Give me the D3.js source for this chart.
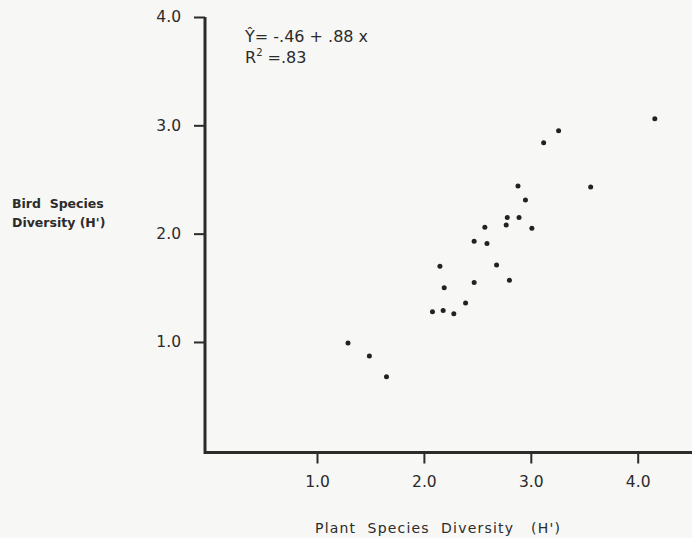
<!DOCTYPE html>
<html>
<head>
<meta charset="utf-8">
<script src="https://cdn.jsdelivr.net/npm/d3@7"></script>
<style>
  html, body { margin: 0; padding: 0; background: #f7f7f5; }
  svg { display: block; }
  text { font-family: "DejaVu Sans", sans-serif; fill: #2b2b2b; }
</style>
</head>
<body>
<div id="chart"></div>
<script>
// données
const plantH = [1.29, 1.49, 1.65, 2.08, 2.18, 2.28, 2.39, 2.19, 2.15, 2.47, 2.80, 2.68, 2.47,
                2.59, 2.57, 2.77, 2.78, 2.89, 3.01, 2.95, 2.88, 3.56, 3.12, 3.26, 4.16];
const birdH  = [0.99, 0.87, 0.68, 1.28, 1.29, 1.26, 1.36, 1.50, 1.70, 1.55, 1.57, 1.71, 1.93,
                1.91, 2.06, 2.08, 2.15, 2.15, 2.05, 2.31, 2.44, 2.43, 2.84, 2.95, 3.06];
const xTicks = [1, 2, 3, 4];
const yTicks = [1, 2, 3, 4];
const xTitre = "Plant  Species  Diversity   (H')";
const yTitre = ["Bird  Species", "Diversity (H')"];

const largeur = 692, hauteur = 538;
const axeX0 = 205, axeY0 = 452.5;

const svg = d3.select("#chart").append("svg")
    .attr("width", largeur).attr("height", hauteur);

const x = d3.scaleLinear().domain([0, 4]).range([210.1, 637.7]);
const y = d3.scaleLinear().domain([0, 4]).range([450.3, 17]);

const encre = "#2b2b2b";

// Axe Y
const gY = svg.append("g").attr("transform", `translate(${axeX0},0)`)
    .call(d3.axisLeft(y).tickValues(yTicks).tickSize(11).tickSizeOuter(0)
        .tickPadding(13).tickFormat(d3.format(".1f")));
gY.select(".domain").remove();
gY.selectAll(".tick line").attr("stroke", encre).attr("stroke-width", 2);
gY.selectAll(".tick text").attr("font-size", 15.5).attr("fill", encre).attr("font-family", "DejaVu Sans");

// Axe X
const gX = svg.append("g").attr("transform", `translate(0,${axeY0})`)
    .call(d3.axisBottom(x).tickValues(xTicks).tickSize(11).tickSizeOuter(0)
        .tickPadding(12).tickFormat(d3.format(".1f")));
gX.select(".domain").remove();
gX.selectAll(".tick line").attr("stroke", encre).attr("stroke-width", 2);
gX.selectAll(".tick text").attr("font-size", 15.5).attr("fill", encre).attr("font-family", "DejaVu Sans");

// Lignes des axes (cadre en L)
svg.append("path")
    .attr("d", `M${axeX0},${y(4)}V${axeY0}H${largeur}`)
    .attr("fill", "none").attr("stroke", encre).attr("stroke-width", 3);

// Points
svg.append("g").selectAll("circle")
    .data(plantH.map((v, i) => [v, birdH[i]]))
    .join("circle")
    .attr("cx", d => x(d[0]))
    .attr("cy", d => y(d[1]))
    .attr("r", 2.5)
    .attr("fill", "#222");

// Équation
const eq = svg.append("g").attr("font-size", 16);
eq.append("text").attr("x", 245).attr("y", 42).text("Ŷ= -.46 + .88 x");
const r2 = eq.append("text").attr("x", 245).attr("y", 63);
r2.append("tspan").text("R");
r2.append("tspan").attr("font-size", 10).attr("dy", -7).text("2");
r2.append("tspan").attr("dy", 7).text(" =.83");

// Titres des axes
svg.append("text")
    .attr("x", 315).attr("y", 533)
    .attr("font-size", 14)
    .attr("textLength", 245)
    .style("white-space", "pre")
    .text(xTitre);

svg.append("g").selectAll("text")
    .data(yTitre)
    .join("text")
    .attr("x", 12)
    .attr("y", (d, i) => 208 + i * 19)
    .attr("font-size", 12.5)
    .attr("font-weight", "bold")
    .style("white-space", "pre")
    .text(d => d);
</script>
</body>
</html>
